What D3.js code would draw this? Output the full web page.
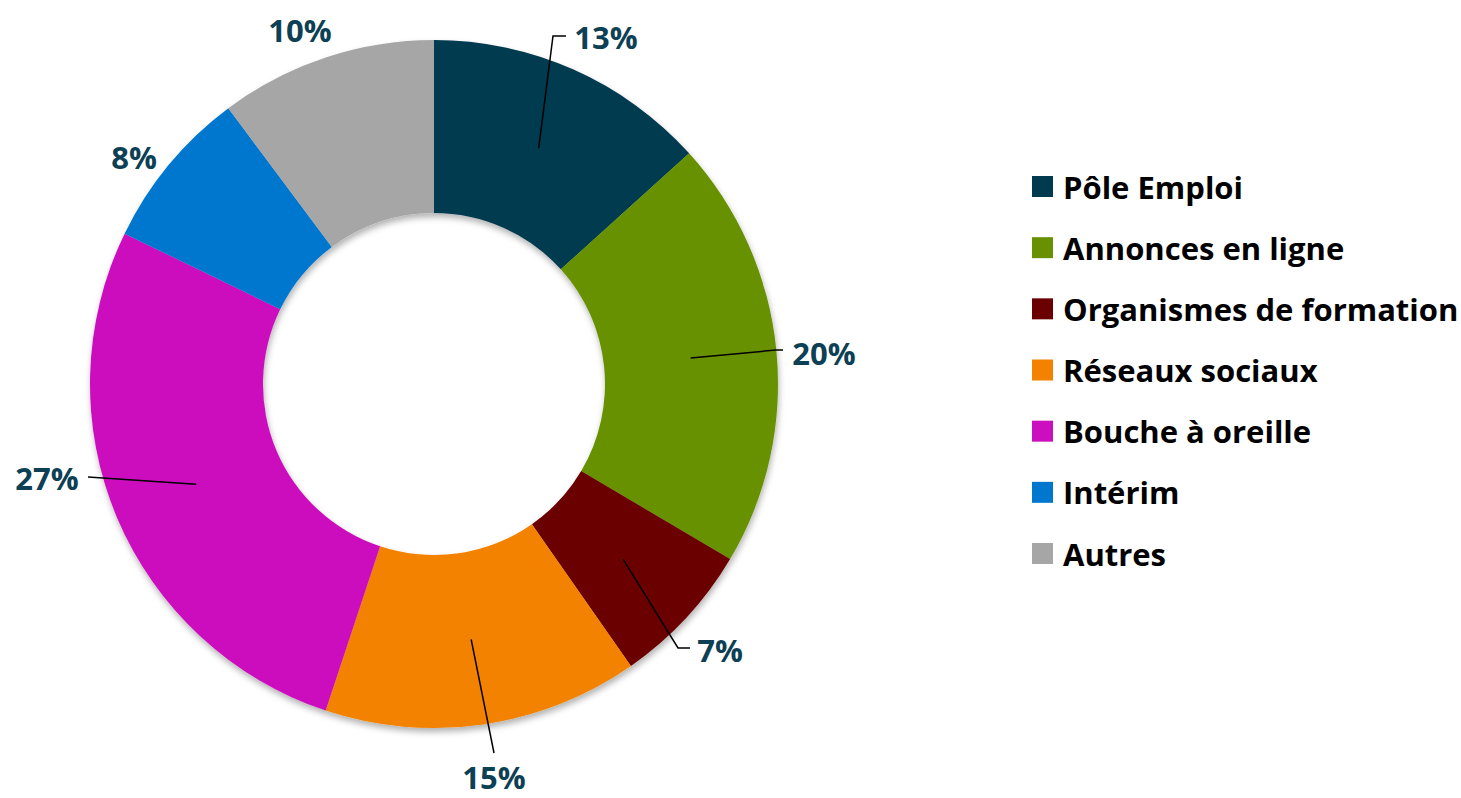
<!DOCTYPE html>
<html><head><meta charset="utf-8">
<script src="https://cdn.jsdelivr.net/npm/d3@7"></script>
<style>
html,body{margin:0;padding:0;background:#fff;}
text{font-family:"Open Sans", sans-serif;font-weight:bold;}
</style></head>
<body>
<svg id="chart" width="1461" height="798"></svg>
<script>
// Data
const categories = ["Pôle Emploi","Annonces en ligne","Organismes de formation","Réseaux sociaux","Bouche à oreille","Intérim","Autres"];
const values = [13.3,20.2,6.8,14.8,27.1,7.6,10.2];
const colors = ["#003A4F","#679100","#6B0000","#F28200","#CC0FBE","#0077CF","#A6A6A6"];

// Layout (label placement, relative to the donut centre; leader elbows)
const labelLayout = [
  {tx:172, ty:-347, leader:[[119,-348],[132,-348]]},
  {tx:390, ty:-31,  leader:[[342,-34],[349,-34]]},
  {tx:286, ty:266,  leader:[[244,264],[256,264]]},
  {tx:60,  ty:393,  leader:[[60,369]]},
  {tx:-387,ty:94,   leader:[[-346,93]]},
  {tx:-300,ty:-227, leader:null},
  {tx:-134,ty:-354, leader:null}
];

const svg = d3.select("#chart");
const cx = 434, cy = 384, rOuter = 344, rInner = 171;

const defs = svg.append("defs");
const f = defs.append("filter").attr("id","sh").attr("x","-10%").attr("y","-10%").attr("width","120%").attr("height","120%");
f.append("feDropShadow").attr("dx",1).attr("dy",4).attr("stdDeviation",3).attr("flood-color","#000").attr("flood-opacity",0.3);

const pie = d3.pie().value(d=>d).sort(null);
const arcs = pie(values);
const arc = d3.arc().innerRadius(rInner).outerRadius(rOuter);
const midArc = d3.arc().innerRadius(258).outerRadius(258);

const g = svg.append("g").attr("transform",`translate(${cx},${cy})`);
g.append("g").attr("filter","url(#sh)")
  .selectAll("path").data(arcs).join("path")
  .attr("d",arc).attr("fill",(d,i)=>colors[i]);

// leader lines + labels
arcs.forEach((d,i)=>{
  const L = labelLayout[i];
  if(L.leader){
    const pts = [midArc.centroid(d), ...L.leader];
    g.append("path").attr("d", d3.line()(pts))
      .attr("fill","none").attr("stroke","#000").attr("stroke-width",1.5);
  }
  g.append("text").attr("x",L.tx).attr("y",L.ty)
    .attr("text-anchor","middle").attr("dominant-baseline","central")
    .attr("font-size",31).attr("fill","#0D3F55")
    .text(Math.round(values[i])+"%");
});

// legend
const lg = svg.append("g").attr("transform","translate(1032,186.5)");
const y = d3.scalePoint().domain(categories).range([0,367]);
const items = lg.selectAll("g").data(categories).join("g").attr("transform",d=>`translate(0,${y(d)})`);
items.append("rect").attr("x",0).attr("y",-10.5).attr("width",21).attr("height",21).attr("fill",(d,i)=>colors[i]);
items.append("text").attr("x",31).attr("y",0).attr("dominant-baseline","central")
  .attr("font-size",31).attr("fill","#000").text(d=>d);
</script>
</body></html>
